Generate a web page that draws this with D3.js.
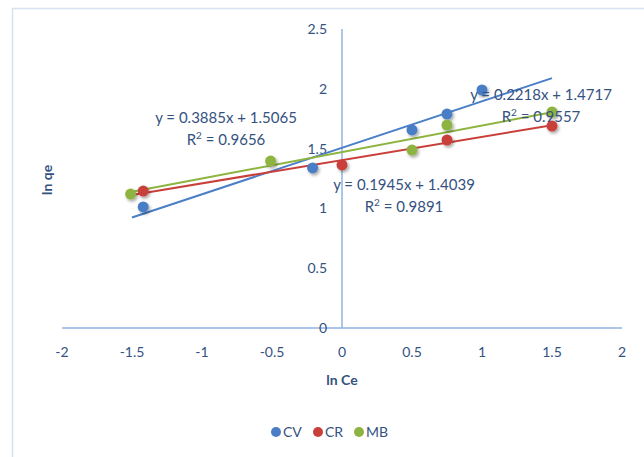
<!DOCTYPE html>
<html><head><meta charset="utf-8">
<script src="https://cdn.jsdelivr.net/npm/d3@7"></script>
<style>body{margin:0;background:#fff;overflow:hidden}svg{display:block;font-family:Lato,"Open Sans",sans-serif}</style>
</head><body>
<script>
const seriesNames = ["CV", "CR", "MB"];
const seriesColors = ["#4a7ec7", "#c9403b", "#8db43f"];
const cvX = [-1.42, -0.21, 0.5, 0.75, 1.0];
const cvY = [1.012, 1.338, 1.656, 1.789, 1.99];
const crX = [-1.42, 0.0, 0.75, 1.5];
const crY = [1.145, 1.363, 1.572, 1.689];
const mbX = [-1.51, -0.51, 0.5, 0.75, 1.5];
const mbY = [1.12, 1.396, 1.488, 1.697, 1.806];
const slopes = [0.3885, 0.1945, 0.2218];
const intercepts = [1.5065, 1.4039, 1.4717];
const r2 = ["0.9656", "0.9891", "0.9557"];
const trendRange = [-1.5, 1.5];
const xTicks = [-2, -1.5, -1, -0.5, 0, 0.5, 1, 1.5, 2];
const yTicks = [0, 0.5, 1, 1.5, 2, 2.5];

const W = 644, H = 457;
const svg = d3.select("body").append("svg").attr("width", W).attr("height", H);
const defs = svg.append("defs");
const f = defs.append("filter").attr("id","sh").attr("x","-50%").attr("y","-50%").attr("width","200%").attr("height","200%");
f.append("feDropShadow").attr("dx",1.5).attr("dy",2).attr("stdDeviation",1.5).attr("flood-color","#000").attr("flood-opacity",0.35);

svg.append("rect").attr("x",12.5).attr("y",8.5).attr("width",700).attr("height",500)
  .attr("fill","none").attr("stroke","#d6e2f0").attr("stroke-width",1.5);

const x = d3.scaleLinear().domain([-2, 2]).range([62, 622]);
const y = d3.scaleLinear().domain([0, 2.5]).range([328, 29]);
const textCol = "#35527f";
const axisCol = "#8fb3e0";

svg.append("line").attr("x1", x(-2)).attr("x2", x(2)).attr("y1", y(0)).attr("y2", y(0)).attr("stroke", axisCol).attr("stroke-width",1.5);
svg.append("line").attr("x1", x(0)).attr("x2", x(0)).attr("y1", y(2.5)).attr("y2", y(0)).attr("stroke", axisCol).attr("stroke-width",1.5);

svg.append("g").selectAll("text").data(xTicks).join("text")
  .attr("x", d => x(d)).attr("y", 357).attr("text-anchor","middle")
  .attr("font-size",14).attr("fill",textCol).text(d => String(d));
svg.append("g").selectAll("text").data(yTicks).join("text")
  .attr("x", x(0) - 15).attr("y", d => y(d) + 5).attr("text-anchor","end")
  .attr("font-size",14).attr("fill",textCol).text(d => String(d));

svg.append("text").attr("x", x(0)).attr("y", 385).attr("text-anchor","middle")
  .attr("font-size",14).attr("font-weight","bold").attr("fill",textCol).text("ln Ce");
svg.append("text").attr("transform","translate(52,180) rotate(-90)").attr("text-anchor","middle")
  .attr("font-size",14).attr("font-weight","bold").attr("fill",textCol).text("ln qe");

const data = [[cvX,cvY],[crX,crY],[mbX,mbY]];
data.forEach((s,i) => {
  svg.append("line")
    .attr("x1", x(trendRange[0])).attr("y1", y(slopes[i]*trendRange[0]+intercepts[i]))
    .attr("x2", x(trendRange[1])).attr("y2", y(slopes[i]*trendRange[1]+intercepts[i]))
    .attr("stroke", seriesColors[i]).attr("stroke-width", 2);
});
data.forEach((s,i) => {
  svg.append("g").selectAll("circle").data(s[0].map((v,j)=>[v,s[1][j]])).join("circle")
    .attr("cx", d => x(d[0])).attr("cy", d => y(d[1])).attr("r", 5.5)
    .attr("fill", seriesColors[i]).attr("filter","url(#sh)");
});

const eqPos = [[226,123,226,145],[404,190,404,212],[541,100,541,122]];
data.forEach((s,i) => {
  const p = eqPos[i];
  svg.append("text").attr("x",p[0]).attr("y",p[1]).attr("text-anchor","middle")
    .attr("font-size",15).attr("fill",textCol)
    .text(`y = ${slopes[i].toFixed(4)}x + ${intercepts[i].toFixed(4)}`);
  const t = svg.append("text").attr("x",p[2]).attr("y",p[3]).attr("text-anchor","middle")
    .attr("font-size",15).attr("fill",textCol);
  t.append("tspan").text("R");
  t.append("tspan").attr("font-size",10).attr("dy",-6).text("2");
  t.append("tspan").attr("dy",6).text(" = " + r2[i]);
});

const lx = [276, 318, 359];
seriesNames.forEach((n,i) => {
  svg.append("circle").attr("cx", lx[i]).attr("cy", 432).attr("r", 5).attr("fill", seriesColors[i]);
  svg.append("text").attr("x", lx[i]+7).attr("y", 437).attr("font-size",14).attr("fill",textCol).text(n);
});
</script>
</body></html>
